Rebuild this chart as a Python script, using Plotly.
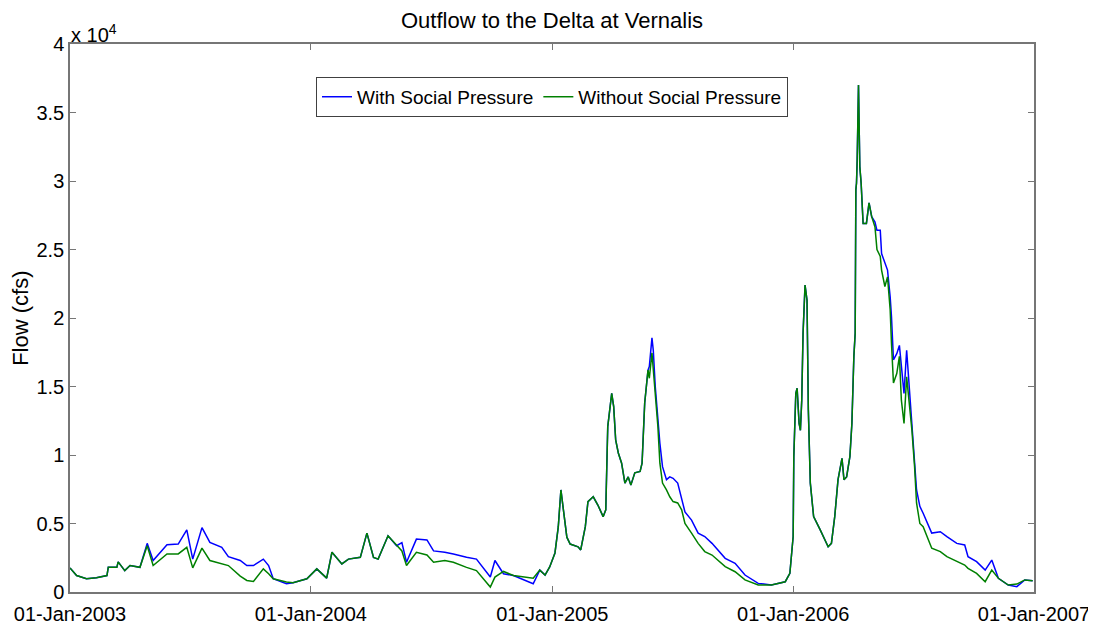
import pandas as pd
import plotly.graph_objects as go

# days after 01-Jan-2003, flows in cfs
day_offset = [
    0, 10, 25, 40, 56, 58, 71, 73, 83, 91, 106, 117, 126, 147, 164, 177, 186, 200,
    212, 230, 240, 258, 268, 278, 293, 301, 308, 328, 338, 359, 374, 389, 397, 412,
    422, 440, 450, 460, 467, 482, 495, 503, 510, 525, 541, 551, 568, 581, 601, 616,
    637, 644, 657, 672, 702, 712, 720, 727, 735, 740, 744, 747, 753, 758, 770, 774,
    781, 785, 793, 800, 808, 812, 815, 821, 824, 827, 831, 836, 841, 846, 850, 856,
    864, 867, 871, 876, 878, 882, 884, 887, 891, 894, 898, 904, 909, 914, 921, 927,
    932, 942, 952, 962, 973, 993, 1008, 1023, 1043, 1063, 1084, 1091, 1096, 1097,
    1100, 1102, 1105, 1107, 1109, 1111, 1114, 1117, 1119, 1122, 1127, 1137, 1149,
    1154, 1159, 1164, 1170, 1173, 1177, 1182, 1185, 1188, 1190, 1191, 1192, 1193,
    1195, 1196, 1197, 1199, 1200, 1202, 1207, 1211, 1215, 1220, 1223, 1228, 1230,
    1235, 1239, 1243, 1245, 1248, 1253, 1257, 1260, 1264, 1268, 1272, 1276, 1280,
    1283, 1288, 1293, 1306, 1319, 1329, 1344, 1356, 1361, 1374, 1387, 1397, 1407,
    1422, 1435, 1447, 1459,
]

flow_with = [
    1760, 1200, 970, 1040, 1200, 1800, 1800, 2200, 1560, 1930, 1800, 3550, 2300, 3450,
    3500, 4540, 2400, 4700, 3620, 3260, 2580, 2300, 1930, 1930, 2400, 1930, 970, 600,
    680, 970, 1690, 1010, 2900, 2050, 2400, 2530, 4300, 2530, 2400, 4100, 3380, 3600,
    2170, 3860, 3800, 3000, 2900, 2780, 2530, 2400, 1090, 2300, 1330, 1200, 600, 1600,
    1240, 1830, 2850, 4750, 7450, 6200, 4000, 3500, 3300, 3070, 4770, 6600, 6950, 6350,
    5500, 6000, 12070, 14500, 13530, 11100, 10150, 9400, 7950, 8400, 7800, 8700, 8800,
    9400, 13800, 16200, 16450, 18550, 17650, 15000, 12550, 10850, 9150, 8200, 8400,
    8300, 7950, 6700, 5850, 5250, 4300, 4050, 3550, 2460, 2100, 1240, 630, 510, 750,
    1360, 4050, 9900, 14500, 14870, 12300, 11800, 14000, 18900, 22400, 21300, 13300,
    7950, 5500, 4530, 3300, 3550, 5500, 8200, 9760, 8200, 8400, 9900, 12300, 17200,
    18900, 29350, 29850, 31500, 37000, 34000, 31050, 29850, 28400, 26900, 26900, 28400,
    27400, 27000, 26400, 26400, 24700, 24000, 23500, 21550, 20100, 16950, 17400, 18000,
    16500, 14500, 17650, 14750, 11800, 9150, 7450, 6250, 5750, 4300, 4400, 4050, 3550,
    3430, 2580, 2210, 1600, 2330, 1000, 510, 390, 880, 830,
]

flow_without = [
    1760, 1200, 970, 1040, 1200, 1800, 1800, 2200, 1560, 1930, 1800, 3380, 1930, 2780,
    2780, 3260, 1760, 3200, 2300, 2050, 1930, 1160, 845, 770, 1690, 1330, 970, 725,
    680, 970, 1690, 1010, 2900, 2050, 2400, 2530, 4300, 2530, 2400, 4100, 3380, 3000,
    1930, 2900, 2700, 2170, 2300, 2170, 1800, 1560, 360, 1090, 1500, 1200, 1010, 1600,
    1240, 1830, 2850, 4750, 7450, 6200, 4000, 3500, 3300, 3070, 4770, 6600, 6950, 6350,
    5500, 6000, 12070, 14500, 13530, 11100, 10150, 9400, 7950, 8400, 7800, 8700, 8800,
    9400, 13800, 16200, 15600, 17450, 16200, 14250, 12070, 9400, 7950, 7450, 6950,
    6600, 6500, 6000, 5000, 4300, 3550, 2950, 2700, 1850, 1480, 880, 510, 510, 750,
    1360, 4050, 9900, 14500, 14870, 12300, 11800, 14000, 18900, 22400, 21300, 13300,
    7950, 5500, 4530, 3300, 3550, 5500, 8200, 9760, 8200, 8400, 9900, 12300, 17200,
    18900, 29350, 29850, 31500, 37000, 34000, 31050, 29850, 28400, 26900, 26900, 28400,
    27400, 26650, 25000, 24500, 23500, 22300, 23000, 20600, 18150, 15250, 15950, 17200,
    14000, 12300, 15700, 13800, 11800, 9150, 6500, 5000, 4770, 3200, 2950, 2580, 2210,
    1970, 1730, 1360, 750, 1600, 1000, 510, 580, 880, 830,
]

series_names = ["With Social Pressure", "Without Social Pressure"]
series_colors = ["#0000ff", "#008000"]

tick_years = ["2003-01-01", "2004-01-01", "2005-01-01", "2006-01-01", "2007-01-01"]
y_ticks = [0, 5000, 10000, 15000, 20000, 25000, 30000, 35000, 40000]
y_ticktext = ["0", "0.5", "1", "1.5", "2", "2.5", "3", "3.5", "4"]

dates = pd.Timestamp("2003-01-01") + pd.to_timedelta(day_offset, unit="D")

FONT = "Liberation Sans, Arial, sans-serif"
AXIS = "#767676"

fig = go.Figure()
for name, vals, col in zip(series_names, [flow_with, flow_without], series_colors):
    fig.add_trace(go.Scatter(x=dates, y=vals, mode="lines", name=name,
                             line=dict(color=col, width=1.5)))

fig.update_layout(
    width=1096, height=624,
    margin=dict(l=62, r=70, t=36, b=40),
    paper_bgcolor="white", plot_bgcolor="white",
    font=dict(family=FONT, size=20, color="black"),
    title=dict(text="Outflow to the Delta at Vernalis", x=0.5, xref="paper",
               y=0.981, yref="container", yanchor="middle",
               font=dict(size=22, color="black")),
    legend=dict(orientation="h", x=0.5, xanchor="center", y=0.94, yanchor="top",
                bordercolor="#404040", borderwidth=1, bgcolor="white",
                font=dict(size=19), itemwidth=30, tracegroupgap=0),
    showlegend=True,
)
fig.update_xaxes(
    type="date", range=["2003-01-01", "2007-01-01"],
    tickvals=tick_years, tickformat="%d-%b-%Y",
    ticks="inside", ticklen=6, tickcolor=AXIS, ticklabelstandoff=3,
    showline=True, linecolor=AXIS, linewidth=1.5, mirror="ticks",
    showgrid=False, zeroline=False, tickfont=dict(size=20), automargin=False,
)
fig.update_yaxes(
    range=[0, 40000], tickvals=y_ticks, ticktext=y_ticktext,
    ticks="inside", ticklen=6, tickcolor=AXIS,
    showline=True, linecolor=AXIS, linewidth=1.5, mirror="ticks",
    showgrid=False, zeroline=False, tickfont=dict(size=20),
)
fig.add_annotation(text="x 10<sup>4</sup>", xref="paper", yref="paper", x=0, y=1,
                   xanchor="left", yanchor="bottom", showarrow=False,
                   font=dict(size=20), xshift=-1, yshift=-4)
fig.add_annotation(text="Flow (cfs)", xref="paper", yref="paper", x=-0.052, y=0.5,
                   xanchor="center", yanchor="middle",
                   textangle=-90, showarrow=False, font=dict(size=22))

fig.write_html("out.html")
